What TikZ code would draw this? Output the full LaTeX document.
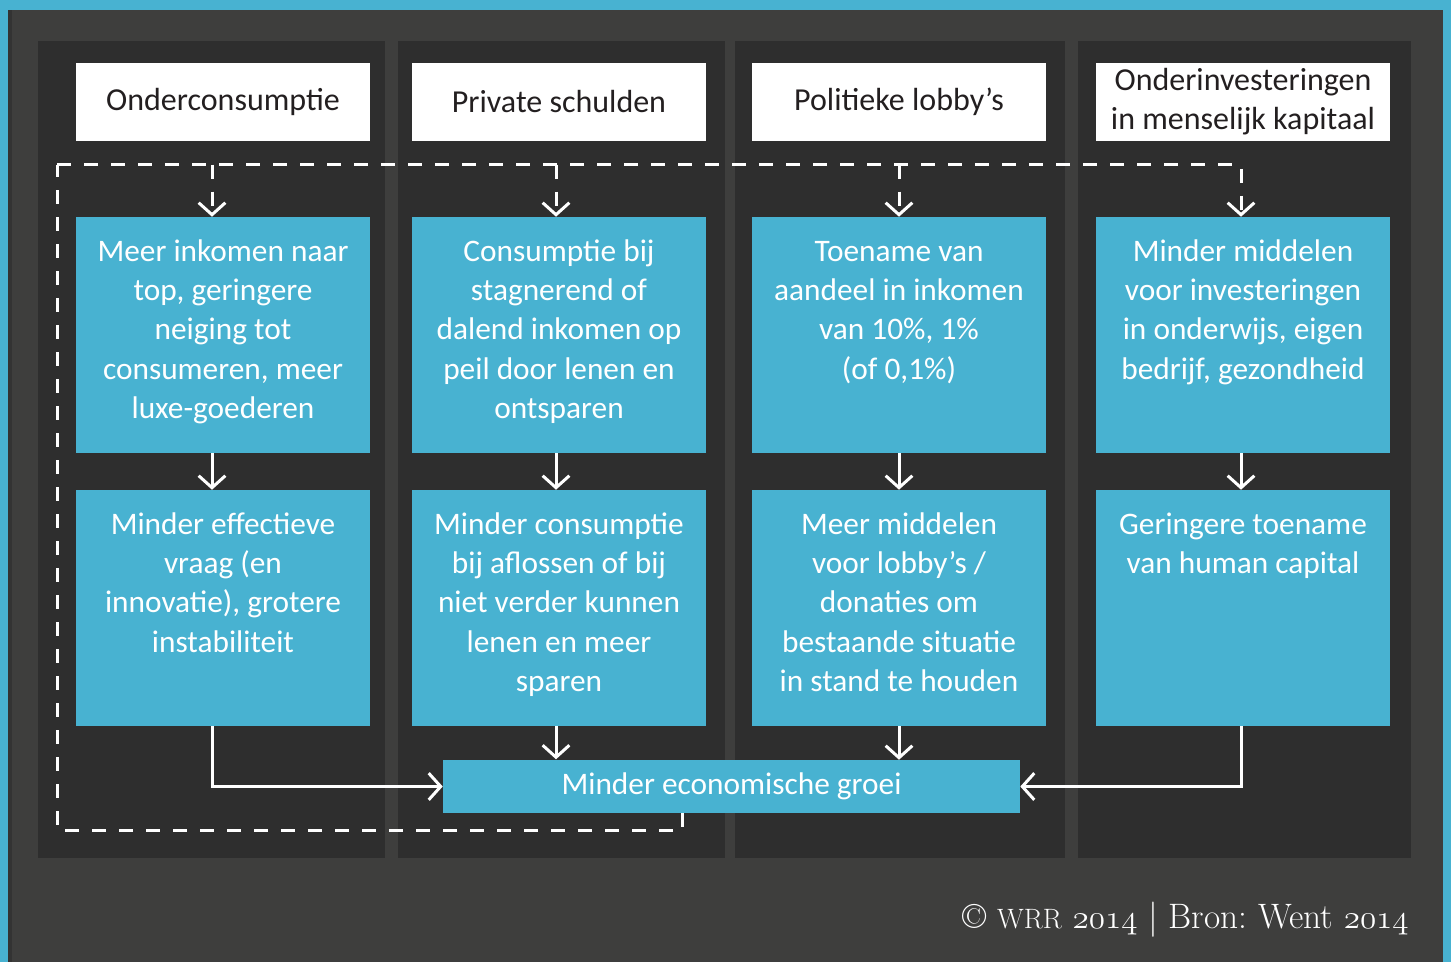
\documentclass[tikz,border=0pt]{standalone}
\usepackage{fontspec}
\setmainfont{Carlito}
\newfontfamily\bronfont{Latin Modern Roman}
\usepackage{tikz}
\usetikzlibrary{arrows.meta, positioning}
\definecolor{wrrblue}{HTML}{48B2D1}
\definecolor{wrrgray}{HTML}{3E3E3D}
\definecolor{wrrdark}{HTML}{2E2E2E}
\definecolor{wrrink}{HTML}{231F20}
\newcommand{\VakTekst}[1]{\parbox[c][177pt][t]{220.5pt}{\centering\fontsize{23.5}{29.5}\selectfont\rule{0pt}{33pt}#1}}
\newcommand{\Oud}[1]{{\usefont{OML}{lmm}{m}{it}#1}}
\newcommand{\KleinKap}[1]{{\fontsize{21}{24}\selectfont#1}}
\frenchspacing

\begin{document}
\begin{tikzpicture}[x=0.75pt, y=-0.75pt,
    kop/.style={fill=white, text=wrrink, minimum width=220.5pt, minimum height=58.5pt,
      inner sep=0pt, align=center, font=\fontsize{24}{29.25}\selectfont},
    vak/.style={fill=wrrblue, text=white, inner sep=0pt},
    pijl/.style={draw=white, line width=2.25pt, -{Straight Barb[length=9pt, width=20pt]}},
    loopline/.style={draw=white, line width=2.25pt, dash pattern=on 10.5pt off 9.75pt}]
    \fill[wrrblue] (0,0) rectangle (1451,962);
    \fill[wrrgray] (8,10) rectangle (1443,962);
    \fill[black!80] (8,10) rectangle (12,962);
    \foreach \Xa/\Xb in {38/385, 398/725, 735/1065, 1078/1411}
      \fill[wrrdark] (\Xa,41) rectangle (\Xb,858);

    \foreach \Nr/\Xc/\Kop in {
      1/223/Onderconsumptie,
      2/559/Private schulden,
      3/899/Politieke lobby’s,
      4/1243/{Onderinvesteringen\\in menselijk kapitaal}}
    \node[kop] (kop\Nr) at (\Xc,102) {\Kop};

    \node[vak] (oz1) at (223,335) {\VakTekst{Meer inkomen naar\\top, geringere\\neiging tot\\consumeren, meer\\luxe-goederen}};
    \node[vak] (oz2) at (559,335) {\VakTekst{Consumptie bij\\stagnerend of\\dalend inkomen op\\peil door lenen en\\ontsparen}};
    \node[vak] (oz3) at (899,335) {\VakTekst{Toename van\\aandeel in inkomen\\van 10\%, 1\%\\(of 0,1\%)}};
    \node[vak] (oz4) at (1243,335) {\VakTekst{Minder middelen\\voor investeringen\\in onderwijs, eigen\\bedrijf, gezondheid}};

    \node[vak] (gv1) at (223,608) {\VakTekst{Minder effectieve\\vraag (en\\innovatie), grotere\\instabiliteit}};
    \node[vak] (gv2) at (559,608) {\VakTekst{Minder consumptie\\bij aflossen of bij\\niet verder kunnen\\lenen en meer\\sparen}};
    \node[vak] (gv3) at (899,608) {\VakTekst{Meer middelen\\voor lobby’s /\\donaties om\\bestaande situatie\\in stand te houden}};
    \node[vak] (gv4) at (1243,608) {\VakTekst{Geringere toename\\van human capital}};

    \node[vak, minimum width=432.75pt, minimum height=39.75pt,
      font=\fontsize{23.5}{28}\selectfont] (groei) at (731.5,786.5) {Minder economische groei};

    \node[text=white, anchor=base east, inner sep=0pt,
      font=\bronfont\fontsize{26.5}{30}\selectfont] (bron) at (1409,928)
      {© \KleinKap{WRR} \Oud{2014} | Bron: Went \Oud{2014}};

    \coordinate (lusO) at (57,830);
    \coordinate (lusB) at (57,165);
    \draw[loopline] ([xshift=-36.4pt]groei.south) |- (lusO) -- (lusB);
    \draw[loopline, pijl] (lusB) -| ([xshift=-1.5pt]oz4.north);
    \foreach \Nr/\Dx in {1/-8.25, 2/-2.25, 3/0}
      \draw[loopline, pijl] ([xshift=\Dx]oz\Nr.north) ++(0,-52) -- ++(0,52);

    \foreach \Nr/\Dx in {1/-8.25, 2/-2.25, 3/0, 4/-1.5}
      \draw[pijl] ([xshift=\Dx]oz\Nr.south) -- ([xshift=\Dx]gv\Nr.north);
    \draw[pijl] ([xshift=-2.25pt]gv2.south) -- ++(0,33);
    \draw[pijl] (gv3.south) -- (gv3.south |- groei.north);
    \draw[pijl] ([xshift=-8.25pt]gv1.south) |- (groei.west);
    \draw[pijl] ([xshift=-1.5pt]gv4.south) |- (groei.east);
  \end{tikzpicture}
\end{document}
